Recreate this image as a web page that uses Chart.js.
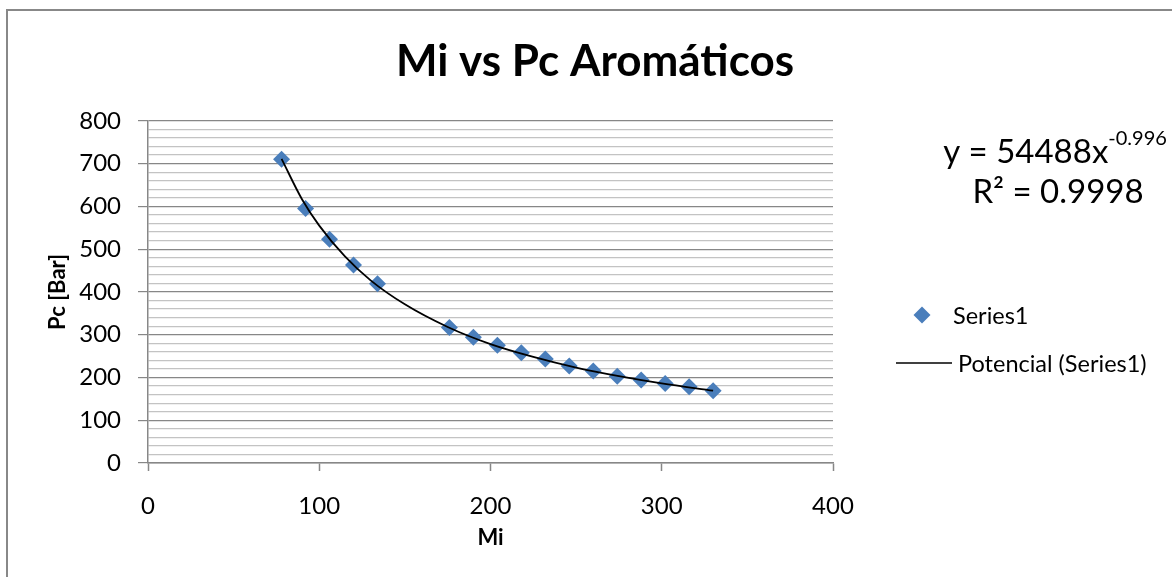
<!DOCTYPE html>
<html>
<head>
<meta charset="utf-8">
<script src="https://cdn.jsdelivr.net/npm/chart.js@4.4.1/dist/chart.umd.min.js"></script>
<style>
  html, body { margin: 0; padding: 0; background: #ffffff; }
  #wrap { width: 1172px; height: 577px; position: relative; }
</style>
</head>
<body>
<div id="wrap"><canvas id="c" width="1172" height="577"></canvas></div>
<script>
// ---- data ----
const miValues = [78, 92, 106, 120, 134, 176, 190, 204, 218, 232, 246, 260, 274, 288, 302, 316, 330];
const pcValues = [710, 595, 523, 463, 419, 317, 294, 275, 258, 243, 227, 215, 203, 194, 186, 178, 169];
// power trendline (Potencial)
const trendX = [78, 90, 100, 115, 130, 150, 175, 200, 225, 250, 275, 300, 330];
const trendY = [711, 616, 555, 483, 427, 371, 318, 278, 248, 223, 203, 186, 169];
const yTicks = [0, 100, 200, 300, 400, 500, 600, 700, 800];
const xTicks = [0, 100, 200, 300, 400];
const chartTitle = 'Mi vs Pc Aromáticos';
const xTitle = 'Mi';
const yTitle = 'Pc [Bar]';
const seriesName = 'Series1';
const trendName = 'Potencial (Series1)';
const eqMain = 'y = 54488x';
const eqExp = '-0.996';
const eqR2 = 'R² = 0.9998';

const FONT = 'Lato, "Open Sans", "Noto Sans", sans-serif';
const BLUE = '#4A7EBB';
const MAJOR = '#878787';
const MINOR = '#C3C3C3';

const scatterData = miValues.map((x, i) => ({ x: x, y: pcValues[i] }));
const trendData = trendX.map((x, i) => ({ x: x, y: trendY[i] }));

const decor = {
  id: 'decor',
  beforeDraw(chart) {
    const ctx = chart.ctx;
    ctx.save();
    ctx.fillStyle = '#ffffff';
    ctx.fillRect(0, 0, chart.width, chart.height);
    ctx.strokeStyle = '#888888';
    ctx.lineWidth = 2;
    ctx.strokeRect(7, 10, 1200, 620);
    ctx.restore();
  },
  afterDraw(chart) {
    const ctx = chart.ctx;
    ctx.save();
    ctx.fillStyle = '#000000';
    ctx.textBaseline = 'middle';
    // equation
    ctx.font = '33px ' + FONT;
    const wMain = ctx.measureText(eqMain).width;
    ctx.font = '20px ' + FONT;
    const wExp = ctx.measureText(eqExp).width;
    const cx = 1055;
    const startX = cx - (wMain + wExp) / 2;
    ctx.font = '33px ' + FONT;
    ctx.textAlign = 'left';
    ctx.fillText(eqMain, startX, 152);
    ctx.font = '20px ' + FONT;
    ctx.fillText(eqExp, startX + wMain, 139);
    ctx.font = '33px ' + FONT;
    ctx.textAlign = 'center';
    ctx.fillText(eqR2, cx + 3, 192);
    // legend
    ctx.fillStyle = BLUE;
    ctx.beginPath();
    ctx.moveTo(922, 306.5);
    ctx.lineTo(930.5, 315);
    ctx.lineTo(922, 323.5);
    ctx.lineTo(913.5, 315);
    ctx.closePath();
    ctx.fill();
    ctx.fillStyle = '#000000';
    ctx.textAlign = 'left';
    ctx.font = '23.5px ' + FONT;
    ctx.fillText(seriesName, 953, 316);
    ctx.strokeStyle = '#000000';
    ctx.lineWidth = 1.5;
    ctx.beginPath();
    ctx.moveTo(896, 363);
    ctx.lineTo(952, 363);
    ctx.stroke();
    ctx.fillText(trendName, 958, 364);
    ctx.restore();
  }
};

new Chart(document.getElementById('c'), {
  type: 'scatter',
  data: {
    datasets: [
      {
        label: trendName,
        data: trendData,
        showLine: true,
        borderColor: '#000000',
        borderWidth: 1.8,
        pointRadius: 0,
        cubicInterpolationMode: 'monotone',
        fill: false
      },
      {
        label: seriesName,
        data: scatterData,
        pointStyle: 'rectRot',
        pointRadius: 8.5,
        backgroundColor: BLUE,
        borderColor: BLUE,
        borderWidth: 0
      }
    ]
  },
  options: {
    responsive: false,
    animation: false,
    devicePixelRatio: 1,
    layout: { padding: { left: 18, right: 0, top: 0, bottom: 0 } },
    plugins: {
      legend: { display: false },
      tooltip: { enabled: false },
      title: {
        display: true,
        text: chartTitle,
        color: '#000000',
        font: { family: FONT, size: 44, weight: 'bold', lineHeight: 1.2 },
        padding: { top: 35, bottom: 33 }
      }
    },
    scales: {
      x: {
        type: 'linear',
        position: 'bottom',
        min: 0,
        max: 400,
        afterBuildTicks(s) { s.ticks = xTicks.map(v => ({ value: v })); },
        afterFit(s) { s.height = 114; },
        grid: { drawOnChartArea: false, drawTicks: true, tickLength: 8, color: MAJOR, tickWidth: 1.5 },
        border: { display: true, color: MAJOR, width: 1.5 },
        ticks: { color: '#000000', font: { family: FONT, size: 24 }, padding: 21, maxRotation: 0, autoSkip: false },
        title: { display: true, text: xTitle, color: '#000000', font: { family: FONT, size: 22, weight: 'bold', lineHeight: 1.2 }, padding: { top: 0, bottom: 26 } }
      },
      y: {
        type: 'linear',
        position: 'left',
        min: 0,
        max: 800,
        ticks: {
          stepSize: 20,
          autoSkip: false,
          color: '#000000',
          font: { family: FONT, size: 24 },
          padding: 17,
          callback: (v) => (yTicks.includes(v) ? String(v) : '')
        },
        afterFit(s) { s.width = 130; },
        grid: {
          drawTicks: true,
          tickLength: 10,
          color: (c) => (c.tick && c.tick.value % 100 === 0 ? MAJOR : MINOR),
          tickColor: (c) => (c.tick && c.tick.value % 100 === 0 ? MAJOR : 'rgba(0,0,0,0)'),
          lineWidth: 1.2
        },
        border: { display: true, color: MAJOR, width: 1.5 },
        title: { display: true, text: yTitle, color: '#000000', font: { family: FONT, size: 22, weight: 'bold', lineHeight: 1.2 }, padding: { top: 27, bottom: 0 } }
      },
      yR: {
        type: 'linear',
        position: 'right',
        display: true,
        min: 0,
        max: 800,
        afterFit(s) { s.width = 339; },
        grid: { display: false, drawOnChartArea: false, drawTicks: false },
        border: { display: false },
        ticks: { display: false }
      }
    }
  },
  plugins: [decor]
});
</script>
</body>
</html>
